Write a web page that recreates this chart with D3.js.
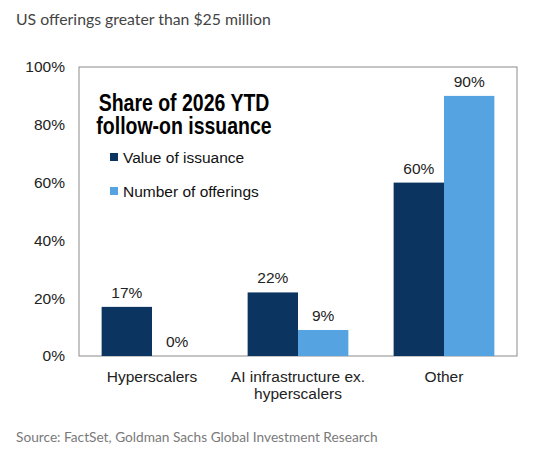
<!DOCTYPE html>
<html>
<head>
<meta charset="utf-8">
<script src="https://cdn.jsdelivr.net/npm/d3@7"></script>
<style>
  body { margin: 0; background: #fff; }
  svg { display: block; }
</style>
</head>
<body>
<svg id="chart" width="545" height="460"></svg>
<script>
// data
var categories = ["Hyperscalers", "AI infrastructure ex.|hyperscalers", "Other"];
var seriesNames = ["Value of issuance", "Number of offerings"];
var valueOfIssuance = [17, 22, 60];
var numberOfOfferings = [0, 9, 90];
var yTicks = [0, 20, 40, 60, 80, 100];
var legendTitle = ["Share of 2026 YTD", "follow-on issuance"];
var colors = ["#0b3560", "#55a3e0"];

var svg = d3.select("#chart");
var arial = "'Liberation Sans', Arial, sans-serif";

var frame = { left: 79, right: 517, top: 67, bottom: 356 };

var y = d3.scaleLinear().domain([0, 100]).range([frame.bottom, frame.top]);
var x = d3.scaleBand().domain(categories).range([frame.left, frame.right]).paddingInner(0.31).paddingOuter(0.155);
var xSub = d3.scaleBand().domain(seriesNames).range([0, x.bandwidth()]);

var rows = categories.map(function (c, i) {
    return { cat: c, vals: [valueOfIssuance[i], numberOfOfferings[i]] };
});

// header + source
svg.append("text").attr("x", 16).attr("y", 25)
    .style("font-family", "Lato, 'Open Sans', sans-serif").style("font-size", "15.8px").style("fill", "#444")
    .text("US offerings greater than $25 million");

svg.append("text").attr("x", 16).attr("y", 442)
    .style("font-family", "Lato, 'Open Sans', sans-serif").style("font-size", "13.7px").style("fill", "#7a7a7a")
    .text("Source: FactSet, Goldman Sachs Global Investment Research");

// frame
svg.append("rect")
    .attr("x", frame.left).attr("y", frame.top)
    .attr("width", frame.right - frame.left).attr("height", frame.bottom - frame.top)
    .attr("fill", "none").attr("stroke", "#8c8c8c").attr("stroke-width", 1);

// y axis labels
var yAxis = d3.axisLeft(y).tickValues(yTicks).tickSize(0).tickPadding(14)
    .tickFormat(function (d) { return d + "%"; });
svg.append("g").attr("transform", "translate(" + frame.left + ",0)").call(yAxis)
    .call(function (g) { g.select(".domain").remove(); })
    .selectAll("text")
    .style("font-family", arial).style("font-size", "15.5px").style("fill", "#222");

// bars
var groups = svg.selectAll("g.grp").data(rows).enter().append("g")
    .attr("class", "grp")
    .attr("transform", function (d) { return "translate(" + x(d.cat) + ",0)"; });

groups.selectAll("rect").data(function (d) {
    return d.vals.map(function (v, i) { return { key: seriesNames[i], v: v, i: i }; });
}).enter().append("rect")
    .attr("x", function (d) { return xSub(d.key); })
    .attr("y", function (d) { return y(d.v); })
    .attr("width", xSub.bandwidth())
    .attr("height", function (d) { return y(0) - y(d.v); })
    .attr("fill", function (d) { return colors[d.i]; });

groups.selectAll("text.val").data(function (d) {
    return d.vals.map(function (v, i) { return { key: seriesNames[i], v: v }; });
}).enter().append("text")
    .attr("class", "val")
    .attr("x", function (d) { return xSub(d.key) + xSub.bandwidth() / 2; })
    .attr("y", function (d) { return y(d.v) - 9; })
    .attr("text-anchor", "middle")
    .style("font-family", arial).style("font-size", "15.5px").style("fill", "#222")
    .text(function (d) { return d.v + "%"; });

// x category labels
svg.selectAll("text.cat").data(categories).enter().append("text")
    .attr("class", "cat")
    .attr("text-anchor", "middle")
    .attr("y", 382)
    .style("font-family", arial).style("font-size", "15.5px").style("fill", "#222")
    .each(function (d) {
        var t = d3.select(this);
        d.split("|").forEach(function (line, i) {
            t.append("tspan").attr("x", x(d) + x.bandwidth() / 2).attr("dy", i ? 17 : 0).text(line);
        });
    });

// legend - the title in the original is drawn a bit taller than plain Arial
var legend = svg.append("g");
legend.selectAll("text.ttl").data(legendTitle).enter().append("text")
    .attr("class", "ttl")
    .attr("text-anchor", "middle")
    .attr("transform", function (d, i) { return "translate(184," + (111 + i * 23) + ")scale(1,1.2)"; })
    .style("font-family", arial)
    .style("font-size", "19.5px").style("font-weight", "bold").style("fill", "#000")
    .text(function (d) { return d; });

var items = legend.selectAll("g.item").data(seriesNames).enter().append("g")
    .attr("class", "item")
    .attr("transform", function (d, i) { return "translate(110," + (157 + i * 34) + ")"; });
items.append("rect").attr("x", 0).attr("y", -4).attr("width", 8).attr("height", 8)
    .attr("fill", function (d, i) { return colors[i]; });
items.append("text").attr("x", 13).attr("y", 5.5)
    .style("font-family", arial).style("font-size", "15.5px").style("fill", "#111")
    .text(function (d) { return d; });
</script>
</body>
</html>
